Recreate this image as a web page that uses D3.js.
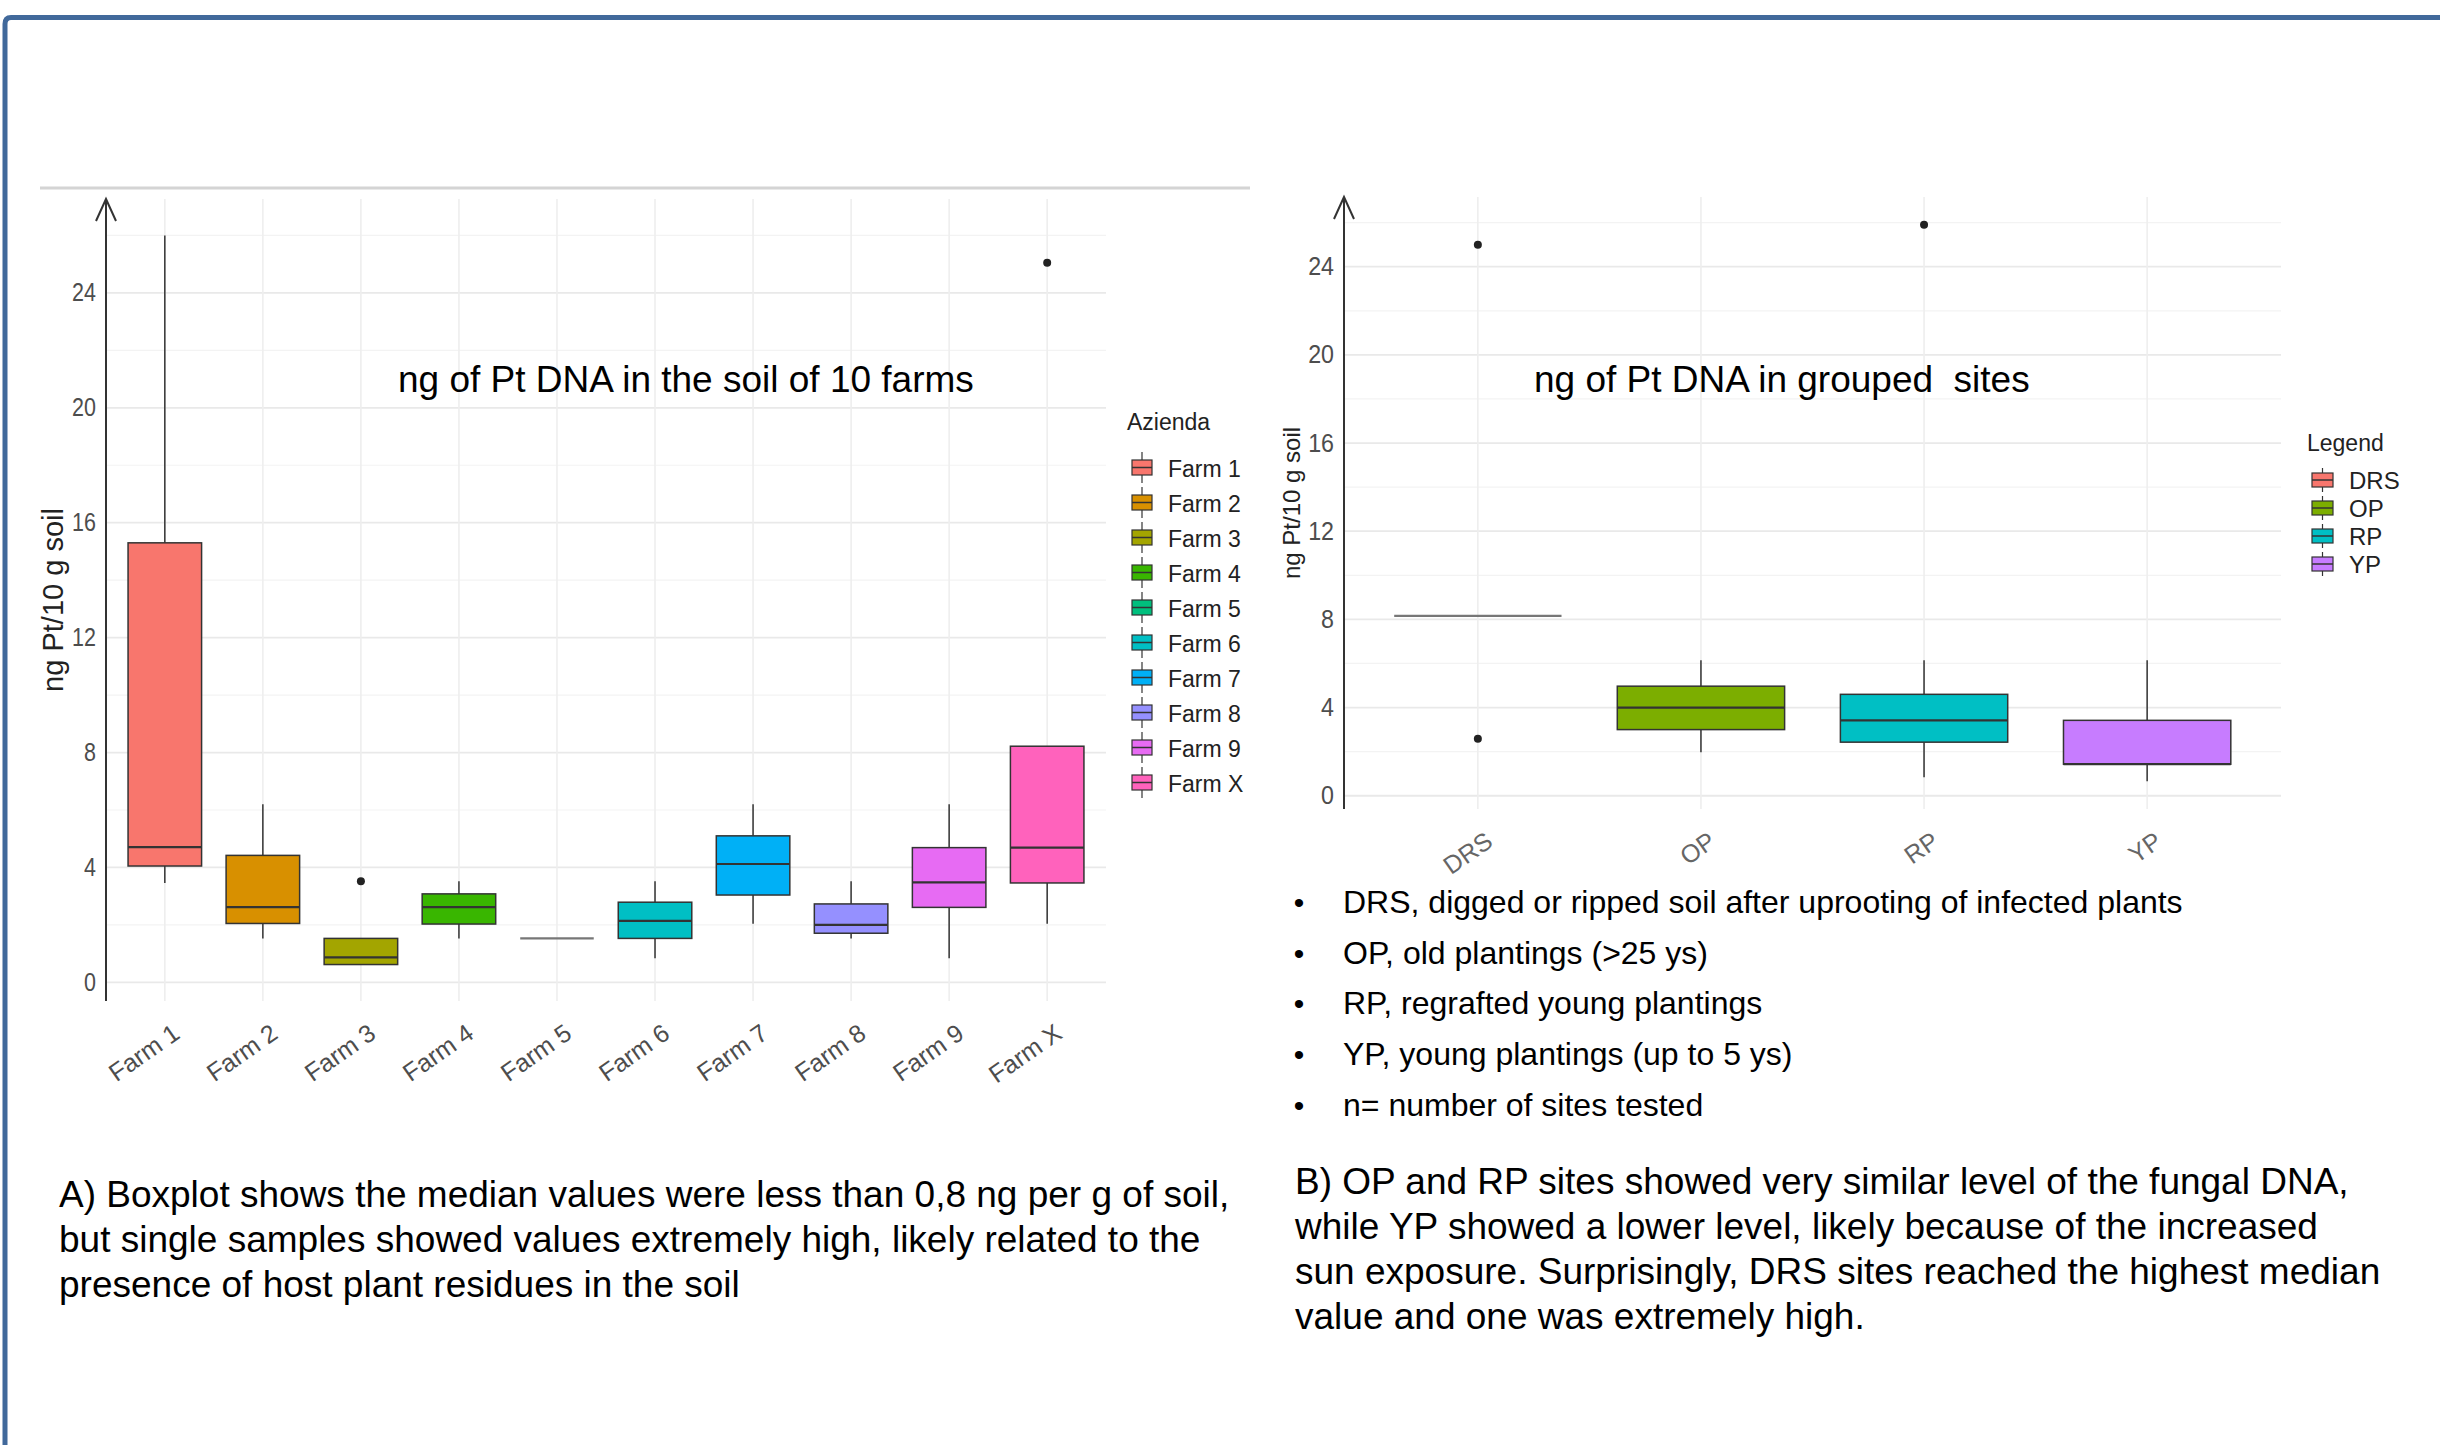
<!DOCTYPE html>
<html>
<head>
<meta charset="utf-8">
<script src="https://cdn.jsdelivr.net/npm/d3@7"></script>
<style>
  body { margin: 0; background: #fff; }
  svg { display: block; font-family: "Liberation Sans", Arial, sans-serif; }
  text { white-space: pre; }
</style>
</head>
<body>
<script>
const W = 2440, H = 1445;

// panel A: farms
const farms = ["Farm 1", "Farm 2", "Farm 3", "Farm 4", "Farm 5", "Farm 6", "Farm 7", "Farm 8", "Farm 9", "Farm X"];
const farmLow = [3.46, 1.53, 0.62, 1.53, 1.53, 0.84, 2.04, 1.53, 0.84, 2.04];
const farmQ1 = [4.05, 2.05, 0.62, 2.03, 1.53, 1.53, 3.04, 1.71, 2.61, 3.46];
const farmMedian = [4.71, 2.62, 0.87, 2.62, 1.53, 2.14, 4.12, 2.0, 3.48, 4.69];
const farmQ3 = [15.3, 4.42, 1.53, 3.08, 1.53, 2.79, 5.10, 2.73, 4.69, 8.22];
const farmHigh = [26.0, 6.2, 1.53, 3.52, 1.53, 3.52, 6.2, 3.52, 6.2, 8.22];
const farmOutliers = [[], [], [3.52], [], [], [], [], [], [], [25.05]];
const farmColors = ["#F8766D", "#D89000", "#A3A500", "#39B600", "#00BF7D", "#00BFC4", "#00B0F6", "#9590FF", "#E76BF3", "#FF62BC"];

// panel B: grouped sites
const sites = ["DRS", "OP", "RP", "YP"];
const siteLow = [8.16, 1.97, 0.84, 0.66];
const siteQ1 = [8.16, 3.0, 2.43, 1.43];
const siteMedian = [8.16, 4.0, 3.42, 1.43];
const siteQ3 = [8.16, 4.97, 4.6, 3.42];
const siteHigh = [8.16, 6.15, 6.15, 6.15];
const siteOutliers = [[25.0, 2.58], [], [25.9], []];
const siteColors = ["#F8766D", "#7CAE00", "#00BFC4", "#C77CFF"];

const yTicks = [0, 4, 8, 12, 16, 20, 24];
const yMinor = [2, 6, 10, 14, 18, 22, 26];

const bullets = [
  "DRS, digged or ripped soil after uprooting of infected plants",
  "OP, old plantings (>25 ys)",
  "RP, regrafted young plantings",
  "YP, young plantings (up to 5 ys)",
  "n= number of sites tested"
];
const captionA = [
  "A) Boxplot shows the median values were less than 0,8 ng per g of soil,",
  "but single samples showed values extremely high, likely related to the",
  "presence of host plant residues in the soil"
];
const captionB = [
  "B) OP and RP sites showed very similar level of the fungal DNA,",
  "while YP showed a lower level, likely because of the increased",
  "sun exposure. Surprisingly, DRS sites reached the highest median",
  "value and one was extremely high."
];

const svg = d3.select("body").append("svg")
  .attr("width", W)
  .attr("height", H);

svg.append("rect").attr("width", W).attr("height", H).attr("fill", "#fff");

// slide frame
svg.append("path")
  .attr("d", "M5,1445 L5,24 Q5,17.5 11,17.5 L2440,17.5")
  .attr("fill", "none")
  .attr("stroke", "#41699b")
  .attr("stroke-width", 5);

svg.append("line")
  .attr("x1", 40).attr("x2", 1250).attr("y1", 188).attr("y2", 188)
  .attr("stroke", "#d4d4d4").attr("stroke-width", 3);

function drawBoxPlot(opt) {
  const g = svg.append("g");
  const all = opt.low.concat(opt.high, opt.outliers.flat());
  const [mn, mx] = d3.extent(all);
  const pad = (mx - mn) * 0.05;

  const y = d3.scaleLinear().domain([mn - pad, mx + pad]).range([opt.bottom, opt.top]);
  const x = d3.scalePoint().domain(opt.cats).range([opt.left, opt.right]).padding(0.6);
  const bw = x.step() * 0.75;

  // grid
  g.selectAll(".minor").data(yMinor).join("line")
    .attr("x1", opt.left).attr("x2", opt.right)
    .attr("y1", d => y(d)).attr("y2", d => y(d))
    .attr("stroke", "#f3f3f3").attr("stroke-width", 1.2);
  g.selectAll(".major").data(yTicks).join("line")
    .attr("x1", opt.left).attr("x2", opt.right)
    .attr("y1", d => y(d)).attr("y2", d => y(d))
    .attr("stroke", "#e9e9e9").attr("stroke-width", 1.8);
  g.selectAll(".vgrid").data(opt.cats).join("line")
    .attr("x1", d => x(d)).attr("x2", d => x(d))
    .attr("y1", opt.top).attr("y2", opt.bottom)
    .attr("stroke", "#eeeeee").attr("stroke-width", 1.6);

  // y axis labels (slightly condensed, as in the stretched original)
  const ya = g.append("g")
    .attr("transform", `translate(${opt.left},0)`)
    .call(d3.axisLeft(y).tickValues(yTicks).tickSize(0));
  ya.select(".domain").remove();
  ya.selectAll("text")
    .attr("x", -10 / opt.tickScale)
    .attr("transform", `scale(${opt.tickScale},1)`)
    .attr("font-size", 25)
    .attr("fill", "#4d4d4d")
    .attr("font-family", "Liberation Sans, Arial, sans-serif");

  // x axis labels
  const xa = g.append("g")
    .attr("transform", `translate(0,${opt.bottom})`)
    .call(d3.axisBottom(x).tickSize(0));
  xa.select(".domain").remove();
  xa.selectAll("text")
    .attr("x", 16).attr("y", 36).attr("dy", 0)
    .attr("text-anchor", "end")
    .attr("transform", "rotate(-35,16,36)")
    .attr("font-size", 25)
    .attr("fill", opt.xLabelColor)
    .attr("font-family", "Liberation Sans, Arial, sans-serif");

  // boxes
  const boxes = g.selectAll(".box").data(opt.cats).join("g");
  boxes.append("line")
    .attr("x1", d => x(d)).attr("x2", d => x(d))
    .attr("y1", (d, i) => y(opt.high[i])).attr("y2", (d, i) => y(opt.q3[i]))
    .attr("stroke", "#333").attr("stroke-width", 1.5);
  boxes.append("line")
    .attr("x1", d => x(d)).attr("x2", d => x(d))
    .attr("y1", (d, i) => y(opt.q1[i])).attr("y2", (d, i) => y(opt.low[i]))
    .attr("stroke", "#333").attr("stroke-width", 1.5);
  boxes.append("rect")
    .attr("x", d => x(d) - bw / 2)
    .attr("width", bw)
    .attr("y", (d, i) => y(opt.q3[i]))
    .attr("height", (d, i) => y(opt.q1[i]) - y(opt.q3[i]))
    .attr("fill", (d, i) => opt.colors[i])
    .attr("stroke", "#333").attr("stroke-width", 1.5);
  boxes.append("line")
    .attr("x1", d => x(d) - bw / 2).attr("x2", d => x(d) + bw / 2)
    .attr("y1", (d, i) => y(opt.med[i])).attr("y2", (d, i) => y(opt.med[i]))
    .attr("stroke", (d, i) => opt.q1[i] === opt.q3[i] ? "#777" : "#333")
    .attr("stroke-width", 2.2);
  boxes.selectAll("circle")
    .data((d, i) => opt.outliers[i].map(v => [d, v]))
    .join("circle")
    .attr("cx", d => x(d[0])).attr("cy", d => y(d[1]))
    .attr("r", 4).attr("fill", "#222");

  // axis with arrow
  g.append("line")
    .attr("x1", opt.left).attr("x2", opt.left)
    .attr("y1", opt.bottom).attr("y2", opt.top + 1)
    .attr("stroke", "#333").attr("stroke-width", 2);
  g.append("path")
    .attr("d", `M${opt.left - 10},${opt.top + 22} L${opt.left},${opt.top} L${opt.left + 10},${opt.top + 22}`)
    .attr("fill", "none").attr("stroke", "#333").attr("stroke-width", 2);

  // axis title
  g.append("text")
    .attr("transform", `translate(${opt.yTitleX},${(opt.top + opt.bottom) / 2}) rotate(-90)`)
    .attr("text-anchor", "middle")
    .attr("font-size", opt.yTitleSize)
    .attr("fill", "#222")
    .text("ng Pt/10 g soil");

  // chart title
  g.append("text")
    .attr("x", opt.titleX).attr("y", 392)
    .attr("font-size", 37)
    .attr("fill", "#000")
    .text(opt.title);

  // legend
  const lg = g.append("g");
  lg.append("text")
    .attr("x", opt.legX - 5).attr("y", opt.legTitleY)
    .attr("font-size", 23).attr("fill", "#222")
    .text(opt.legTitle);
  const rows = lg.selectAll(".row").data(opt.cats).join("g")
    .attr("transform", (d, i) => `translate(${opt.legX},${opt.legY + i * opt.legStep})`);
  rows.append("line")
    .attr("x1", opt.keyW / 2).attr("x2", opt.keyW / 2)
    .attr("y1", -opt.legStep / 2 + 2).attr("y2", opt.legStep / 2 - 2)
    .attr("stroke", "#333").attr("stroke-width", 1.2);
  rows.append("rect")
    .attr("x", 0).attr("y", -opt.keyH / 2)
    .attr("width", opt.keyW).attr("height", opt.keyH)
    .attr("fill", (d, i) => opt.colors[i])
    .attr("stroke", "#333").attr("stroke-width", 1.2);
  rows.append("line")
    .attr("x1", 0).attr("x2", opt.keyW)
    .attr("y1", 0).attr("y2", 0)
    .attr("stroke", "#333").attr("stroke-width", 1.5);
  rows.append("text")
    .attr("x", opt.keyW + 16).attr("y", 9)
    .attr("font-size", opt.legFont).attr("fill", "#222")
    .text(d => d);
}

drawBoxPlot({
  cats: farms, low: farmLow, q1: farmQ1, med: farmMedian, q3: farmQ3, high: farmHigh,
  outliers: farmOutliers, colors: farmColors,
  left: 106, right: 1106, top: 199, bottom: 1001,
  xLabelColor: "#4d4d4d", tickScale: 0.86,
  yTitleX: 63, yTitleSize: 29,
  title: "ng of Pt DNA in the soil of 10 farms", titleX: 398,
  legTitle: "Azienda", legX: 1132, legTitleY: 430, legY: 467.5, legStep: 35, keyW: 20, keyH: 15, legFont: 23
});

drawBoxPlot({
  cats: sites, low: siteLow, q1: siteQ1, med: siteMedian, q3: siteQ3, high: siteHigh,
  outliers: siteOutliers, colors: siteColors,
  left: 1344, right: 2281, top: 197, bottom: 809,
  xLabelColor: "#666", tickScale: 0.93,
  yTitleX: 1300, yTitleSize: 24,
  title: "ng of Pt DNA in grouped  sites", titleX: 1534,
  legTitle: "Legend", legX: 2312, legTitleY: 451, legY: 480, legStep: 28, keyW: 21, keyH: 14, legFont: 24
});

// bullet list
const bl = svg.append("g");
bl.selectAll(".dot").data(bullets).join("text")
  .attr("x", 1299).attr("y", (d, i) => 913 + i * 50.7)
  .attr("font-size", 30).attr("text-anchor", "middle")
  .text("\u2022");
bl.selectAll(".item").data(bullets).join("text")
  .attr("x", 1343).attr("y", (d, i) => 913 + i * 50.7)
  .attr("font-size", 32).attr("fill", "#000")
  .text(d => d);

// captions
svg.append("g").selectAll("text").data(captionA).join("text")
  .attr("x", 59).attr("y", (d, i) => 1207 + i * 45)
  .attr("font-size", 37).attr("fill", "#000")
  .text(d => d);

svg.append("g").selectAll("text").data(captionB).join("text")
  .attr("x", 1295).attr("y", (d, i) => 1194 + i * 45)
  .attr("font-size", 37).attr("fill", "#000")
  .text(d => d);
</script>
</body>
</html>
